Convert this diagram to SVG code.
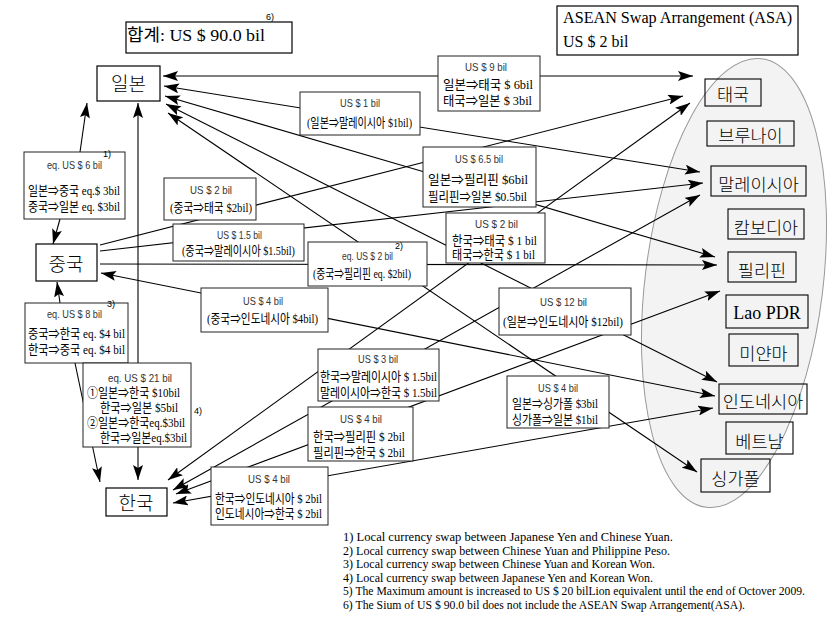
<svg xmlns="http://www.w3.org/2000/svg" width="828" height="619" viewBox="0 0 828 619">
<style>
.bx{fill:#fff;stroke:#000;stroke-width:1.2}
.lb{fill:#fff;stroke:#222;stroke-width:1}
.cb{fill:none;stroke:#000;stroke-width:1.1}
.hd{font-family:"Liberation Sans","DejaVu Sans",sans-serif;font-size:11px;fill:#333;text-anchor:middle}
.kr{font-family:"Liberation Serif","Noto Sans CJK KR",serif;font-size:13px;fill:#000}
.m{text-anchor:middle}
.nd{font-family:"Noto Sans CJK KR",sans-serif;font-size:19px;font-weight:300;text-anchor:middle}
.cn{font-family:"Noto Sans CJK KR",sans-serif;font-size:17.5px;font-weight:300;text-anchor:middle}
.sp{font-family:"Liberation Sans",sans-serif;font-size:9px}
.sr{font-family:"Liberation Serif","Noto Sans CJK KR",serif}
.fn{font-family:"Liberation Serif",serif;font-size:11.5px}
.ln{stroke:#000;stroke-width:1.1;fill:none}
</style>
<defs>
<marker id="a" viewBox="0 0 15 10" refX="15" refY="5" markerWidth="15" markerHeight="10" markerUnits="userSpaceOnUse" orient="auto-start-reverse"><path d="M0,0 L15,5 L0,10 L3,5 z" fill="#000"/></marker>
</defs>
<rect width="828" height="619" fill="#fff"/>

<g id="asean-ellipse">
<ellipse cx="734" cy="283" rx="89" ry="226" transform="rotate(7 734 283)" fill="#f3f3f3" stroke="#999" stroke-width="1"/>
</g>

<g id="connectors">
<path class="ln" d="M163,76 L693,76" marker-start="url(#a)" marker-end="url(#a)"/>
<path class="ln" d="M164,86 L700,172" marker-start="url(#a)" marker-end="url(#a)"/>
<path class="ln" d="M165,96 L715,257" marker-start="url(#a)" marker-end="url(#a)"/>
<path class="ln" d="M166,104 L717,382" marker-start="url(#a)" marker-end="url(#a)"/>
<path class="ln" d="M168,113 L697,472" marker-start="url(#a)" marker-end="url(#a)"/>
<path class="ln" d="M100,245 L683,96" marker-end="url(#a)"/>
<path class="ln" d="M100,251 L703,183" marker-end="url(#a)"/>
<path class="ln" d="M100,264 L717,265" marker-end="url(#a)"/>
<path class="ln" d="M101,273 L715,396" marker-start="url(#a)" marker-end="url(#a)"/>
<path class="ln" d="M168,480 L690,103" marker-start="url(#a)" marker-end="url(#a)"/>
<path class="ln" d="M173,490 L700,195" marker-start="url(#a)" marker-end="url(#a)"/>
<path class="ln" d="M176,494 L720,291" marker-start="url(#a)" marker-end="url(#a)"/>
<path class="ln" d="M173,503 L713,408" marker-start="url(#a)" marker-end="url(#a)"/>
<path class="ln" d="M80,152 L87,103" marker-end="url(#a)"/>
<path class="ln" d="M60,219 L53,244" marker-end="url(#a)"/>
<path class="ln" d="M60,303 L57,282" marker-end="url(#a)"/>
<path class="ln" d="M75,363 L100,482" marker-end="url(#a)"/>
<path class="ln" d="M138,363 L138,103" marker-end="url(#a)"/>
<path class="ln" d="M138,447 L138,480" marker-end="url(#a)"/>
</g>

<g id="title">
<rect class="bx" x="126" y="22" width="166" height="31"/>
<text class="sr" x="127" y="41" font-size="17" textLength="138" lengthAdjust="spacingAndGlyphs">합계: US $ 90.0 bil</text>
<text class="sp" x="266" y="20">6)</text>
</g>

<g id="asa">
<rect class="bx" x="557" y="6" width="241" height="49"/>
<text class="sr" x="563" y="23" font-size="16" textLength="229" lengthAdjust="spacingAndGlyphs">ASEAN Swap Arrangement (ASA)</text>
<text class="sr" x="563" y="47" font-size="16">US $ 2 bil</text>
</g>

<g id="japan"><rect class="bx" x="97" y="66" width="63" height="35"/><text class="nd" x="128.5" y="91">일본</text></g>
<g id="china"><rect class="bx" x="36" y="244" width="61" height="37"/><text class="nd" x="66" y="271">중국</text></g>
<g id="korea"><rect class="bx" x="106" y="488" width="61" height="28"/><text class="nd" x="136" y="510">한국</text></g>

<g id="lbl-jc">
<rect class="lb" x="24" y="152" width="101" height="67"/>
<text class="hd" x="74.5" y="169" textLength="55" lengthAdjust="spacingAndGlyphs">eq. US $ 6 bil</text>
<text class="kr m" x="74" y="195" textLength="92" lengthAdjust="spacingAndGlyphs">일본⇒중국 eq.$ 3bil</text>
<text class="kr m" x="74" y="211" textLength="92" lengthAdjust="spacingAndGlyphs">중국⇒일본 eq. $3bil</text>
<text class="sp" x="103" y="157">1)</text>
</g>

<g id="lbl-ck">
<rect class="lb" x="25" y="303" width="103" height="60"/>
<text class="hd" x="74.5" y="318" textLength="55" lengthAdjust="spacingAndGlyphs">eq. US $ 8 bil</text>
<text class="kr m" x="76.5" y="338" textLength="97" lengthAdjust="spacingAndGlyphs">중국⇒한국 eq. $4 bil</text>
<text class="kr m" x="76.5" y="354" textLength="97" lengthAdjust="spacingAndGlyphs">한국⇒중국 eq. $4 bil</text>
<text class="sp" x="107" y="307">3)</text>
</g>

<g id="lbl-jk">
<rect class="lb" x="83" y="363" width="108" height="84"/>
<text class="hd" x="140" y="382" textLength="64" lengthAdjust="spacingAndGlyphs">eq. US $ 21 bil</text>
<text class="kr" x="87" y="397" textLength="93" lengthAdjust="spacingAndGlyphs">①일본⇒한국 $10bil</text>
<text class="kr" x="100" y="412" textLength="78" lengthAdjust="spacingAndGlyphs">한국⇒일본  $5bil</text>
<text class="kr" x="87" y="427" textLength="98" lengthAdjust="spacingAndGlyphs">②일본⇒한국eq.$3bil</text>
<text class="kr" x="100" y="442" textLength="87" lengthAdjust="spacingAndGlyphs">한국⇒일본eq.$3bil</text>
<text class="sp" x="194" y="414">4)</text>
</g>

<g id="lbl-ki">
<rect class="lb" x="211" y="467" width="117" height="58"/>
<text class="hd" x="269" y="483" textLength="42" lengthAdjust="spacingAndGlyphs">US $ 4 bil</text>
<text class="kr m" x="268.5" y="503" textLength="107" lengthAdjust="spacingAndGlyphs">한국⇒인도네시아 $ 2bil</text>
<text class="kr m" x="268.5" y="518" textLength="107" lengthAdjust="spacingAndGlyphs">인도네시아⇒한국 $ 2bil</text>
</g>

<g id="lbl-kp">
<rect class="lb" x="308" y="407" width="105" height="54"/>
<text class="hd" x="361" y="423" textLength="42" lengthAdjust="spacingAndGlyphs">US $ 4 bil</text>
<text class="kr m" x="359" y="441" textLength="92" lengthAdjust="spacingAndGlyphs">한국⇒필리핀 $ 2bil</text>
<text class="kr m" x="359" y="457" textLength="92" lengthAdjust="spacingAndGlyphs">필리핀⇒한국 $ 2bil</text>
</g>

<g id="lbl-km">
<rect class="lb" x="318" y="349" width="121" height="52"/>
<text class="hd" x="378" y="363" textLength="40" lengthAdjust="spacingAndGlyphs">US $ 3 bil</text>
<text class="kr m" x="378.5" y="381" textLength="117" lengthAdjust="spacingAndGlyphs">한국⇒말레이시아 $ 1.5bil</text>
<text class="kr m" x="378.5" y="397" textLength="117" lengthAdjust="spacingAndGlyphs">말레이시아⇒한국 $ 1.5bil</text>
</g>

<g id="lbl-js">
<rect class="lb" x="507" y="376" width="102" height="52"/>
<text class="hd" x="558" y="392" textLength="40" lengthAdjust="spacingAndGlyphs">US $ 4 bil</text>
<text class="kr m" x="555" y="408" textLength="86" lengthAdjust="spacingAndGlyphs">일본⇒싱가폴 $3bil</text>
<text class="kr m" x="555" y="424" textLength="86" lengthAdjust="spacingAndGlyphs">싱가폴⇒일본 $1bil</text>
</g>

<g id="lbl-ji">
<rect class="lb" x="499" y="288" width="132" height="47"/>
<text class="hd" x="563.5" y="306" textLength="47" lengthAdjust="spacingAndGlyphs">US $ 12 bil</text>
<text class="kr m" x="563" y="326" textLength="120" lengthAdjust="spacingAndGlyphs">(일본⇒인도네시아 $12bil)</text>
</g>

<g id="lbl-kt">
<rect class="lb" x="446" y="213" width="99" height="50"/>
<text class="hd" x="496.5" y="228" textLength="43" lengthAdjust="spacingAndGlyphs">US $ 2 bil</text>
<text class="kr m" x="494.5" y="245" textLength="85" lengthAdjust="spacingAndGlyphs">한국⇒태국  $ 1 bil</text>
<text class="kr m" x="493.5" y="259" textLength="83" lengthAdjust="spacingAndGlyphs">태국⇒한국 $ 1 bil</text>
</g>

<g id="lbl-jp">
<rect class="lb" x="423" y="147" width="113" height="60"/>
<text class="hd" x="479" y="163" textLength="48" lengthAdjust="spacingAndGlyphs">US $ 6.5 bil</text>
<text class="kr m" x="478" y="184" textLength="100" lengthAdjust="spacingAndGlyphs">일본⇒필리핀 $6bil</text>
<text class="kr m" x="477.5" y="201" textLength="99" lengthAdjust="spacingAndGlyphs">필리핀⇒일본 $0.5bil</text>
</g>

<g id="lbl-jt">
<rect class="lb" x="438" y="56" width="102" height="55"/>
<text class="hd" x="486" y="71" textLength="42" lengthAdjust="spacingAndGlyphs">US $ 9 bil</text>
<text class="kr m" x="488" y="89" textLength="90" lengthAdjust="spacingAndGlyphs">일본⇒태국 $ 6bil</text>
<text class="kr m" x="487.5" y="105" textLength="89" lengthAdjust="spacingAndGlyphs">태국⇒일본 $ 3bil</text>
</g>

<g id="lbl-jm">
<rect class="lb" x="300" y="92" width="120" height="43"/>
<text class="hd" x="360" y="107" textLength="40" lengthAdjust="spacingAndGlyphs">US $ 1 bil</text>
<text class="kr m" x="359.5" y="127" textLength="105" lengthAdjust="spacingAndGlyphs">(일본⇒말레이시아 $1bil)</text>
</g>

<g id="lbl-ct">
<rect class="lb" x="164" y="178" width="92" height="42"/>
<text class="hd" x="211" y="194" textLength="42" lengthAdjust="spacingAndGlyphs">US $ 2 bil</text>
<text class="kr m" x="211" y="212" textLength="82" lengthAdjust="spacingAndGlyphs">(중국⇒태국 $2bil)</text>
</g>

<g id="lbl-cm">
<rect class="lb" x="173" y="224" width="131" height="37"/>
<text class="hd" x="239.5" y="239" textLength="45" lengthAdjust="spacingAndGlyphs">US $ 1.5 bil</text>
<text class="kr m" x="238.5" y="255" textLength="113" lengthAdjust="spacingAndGlyphs">(중국⇒말레이시아 $1.5bil)</text>
</g>

<g id="lbl-cp">
<rect class="lb" x="308" y="242" width="119" height="44"/>
<text class="hd" x="367.5" y="260" textLength="51" lengthAdjust="spacingAndGlyphs">eq. US $ 2 bil</text>
<text class="kr m" x="362" y="278" textLength="98" lengthAdjust="spacingAndGlyphs">(중국⇒필리핀 eq. $2bil)</text>
<text class="sp" x="395" y="249">2)</text>
</g>

<g id="lbl-ci">
<rect class="lb" x="201" y="288" width="127" height="44"/>
<text class="hd" x="263" y="305" textLength="40" lengthAdjust="spacingAndGlyphs">US $ 4 bil</text>
<text class="kr m" x="262.5" y="323" textLength="111" lengthAdjust="spacingAndGlyphs">(중국⇒인도네시아 $4bil)</text>
</g>

<g id="thailand"><rect class="cb" x="705" y="79" width="56" height="27"/><text class="cn" x="733" y="101">태국</text></g>
<g id="brunei"><rect class="cb" x="707" y="121" width="87" height="25"/><text class="cn" x="750.5" y="142">브루나이</text></g>
<g id="malaysia"><rect class="cb" x="711" y="166" width="95" height="30"/><text class="cn" x="758.5" y="191">말레이시아</text></g>
<g id="cambodia"><rect class="cb" x="728" y="209" width="76" height="30"/><text class="cn" x="766" y="234">캄보디아</text></g>
<g id="philippines"><rect class="cb" x="728" y="252" width="68" height="30"/><text class="cn" x="762" y="277">필리핀</text></g>
<g id="laos"><rect class="cb" x="726" y="295" width="82" height="33"/><text class="sr" x="767" y="319" font-size="18" text-anchor="middle">Lao PDR</text></g>
<g id="myanmar"><rect class="cb" x="729" y="334" width="69" height="32"/><text class="cn" x="763.5" y="360">미얀마</text></g>
<g id="indonesia"><rect class="cb" x="719" y="384" width="88" height="30"/><text class="cn" x="763" y="408">인도네시아</text></g>
<g id="vietnam"><rect class="cb" x="726" y="422" width="67" height="32"/><text class="cn" x="759.5" y="448">베트남</text></g>
<g id="singapore"><rect class="cb" x="701" y="459" width="69" height="33"/><text class="cn" x="735.5" y="485">싱가폴</text></g>

<g id="footnotes">
<text class="fn" x="343" y="541" textLength="330" lengthAdjust="spacingAndGlyphs">1) Local currency swap between Japanese Yen and Chinese Yuan.</text>
<text class="fn" x="343" y="554.5" textLength="327" lengthAdjust="spacingAndGlyphs">2) Local currency swap between Chinese Yuan and Philippine Peso.</text>
<text class="fn" x="343" y="568" textLength="312" lengthAdjust="spacingAndGlyphs">3) Local currency swap between Chinese Yuan and Korean Won.</text>
<text class="fn" x="343" y="581.5" textLength="310" lengthAdjust="spacingAndGlyphs">4) Local currency swap between Japanese Yen and Korean Won.</text>
<text class="fn" x="343" y="595" textLength="462" lengthAdjust="spacingAndGlyphs">5) The Maximum amount is increased to US $ 20 bilLion equivalent until the end of Octover 2009.</text>
<text class="fn" x="343" y="608.5" textLength="402" lengthAdjust="spacingAndGlyphs">6) The Sium of US $ 90.0 bil does not include the ASEAN Swap Arrangement(ASA).</text>
</g>
</svg>
